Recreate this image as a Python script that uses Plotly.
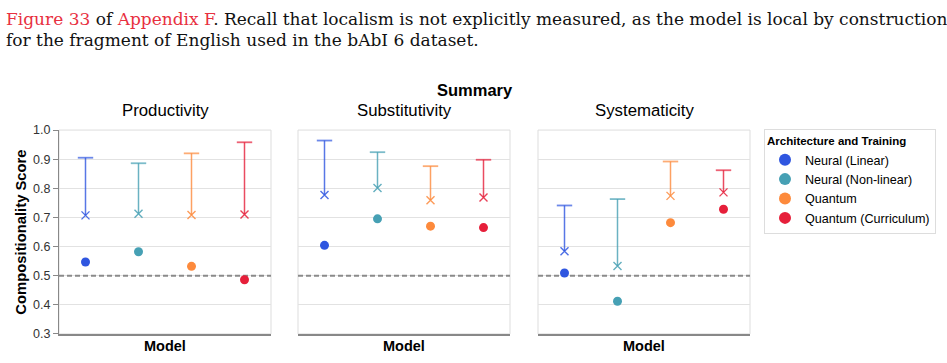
import plotly.graph_objects as go

# ---------------- data ----------------
panels = ["Productivity", "Substitutivity", "Systematicity"]
models = ["Neural (Linear)", "Neural (Non-linear)", "Quantum", "Quantum (Curriculum)"]
colors = ["#2f56e0", "#46a0b4", "#fd8a3c", "#e61f3a"]

score_productivity = [0.547, 0.582, 0.532, 0.486]
mid_productivity = [0.707, 0.713, 0.708, 0.710]
upper_productivity = [0.905, 0.886, 0.920, 0.958]

score_substitutivity = [0.604, 0.695, 0.670, 0.665]
mid_substitutivity = [0.777, 0.801, 0.759, 0.768]
upper_substitutivity = [0.964, 0.924, 0.876, 0.898]

score_systematicity = [0.509, 0.412, 0.682, 0.728]
mid_systematicity = [0.584, 0.533, 0.774, 0.786]
upper_systematicity = [0.741, 0.763, 0.892, 0.862]

baseline = 0.5
y_ticks = [0.3, 0.4, 0.5, 0.6, 0.7, 0.8, 0.9, 1.0]

caption_line1 = ('<span style="color:#e8303f">Figure 33</span> of '
                 '<span style="color:#e8303f">Appendix F</span>. Recall that localism is not '
                 'explicitly measured, as the model is local by construction')
caption_line2 = "for the fragment of English used in the bAbI 6 dataset."

scores = [score_productivity, score_substitutivity, score_systematicity]
mids = [mid_productivity, mid_substitutivity, mid_systematicity]
uppers = [upper_productivity, upper_substitutivity, upper_systematicity]

# ---------------- layout geometry ----------------
W, H = 947, 363
px_x = [(59, 271), (298, 510), (538, 750)]
y_top, y_bot = 128, 340

SANS = "Liberation Sans, Arial, sans-serif"
SERIF = "DejaVu Serif, serif"

fig = go.Figure()

for p in range(3):
    xa = "x" if p == 0 else f"x{p+1}"
    ya = "y" if p == 0 else f"y{p+1}"
    # baseline dashed rule
    fig.add_trace(go.Scatter(
        x=[-0.5, 3.5], y=[baseline, baseline], mode="lines",
        line=dict(color="#8a8a8a", width=2, dash="5px,3px"),
        xaxis=xa, yaxis=ya, showlegend=False, hoverinfo="skip"))
    for m, model in enumerate(models):
        c = colors[m]
        # error line from mid to upper
        fig.add_trace(go.Scatter(
            x=[m, m], y=[mids[p][m], uppers[p][m]], mode="lines",
            line=dict(color=c, width=1.5), opacity=0.8,
            xaxis=xa, yaxis=ya, showlegend=False, hoverinfo="skip"))
        # cap
        fig.add_trace(go.Scatter(
            x=[m], y=[uppers[p][m]], mode="markers",
            marker=dict(symbol="line-ew-open", size=11, color=c,
                        line=dict(color=c, width=1.8)),
            opacity=0.7, xaxis=xa, yaxis=ya, showlegend=False, hoverinfo="skip"))
        # x marker
        fig.add_trace(go.Scatter(
            x=[m], y=[mids[p][m]], mode="markers",
            marker=dict(symbol="x-thin-open", size=8, color=c,
                        line=dict(color=c, width=1.4)),
            opacity=0.85, xaxis=xa, yaxis=ya, showlegend=False, hoverinfo="skip"))
        # score dot
        fig.add_trace(go.Scatter(
            x=[m], y=[scores[p][m]], mode="markers",
            marker=dict(symbol="circle", size=9, color=c),
            name=model, legendgroup=model, showlegend=(p == 0),
            xaxis=xa, yaxis=ya))

layout = dict(
    width=W, height=H,
    margin=dict(l=0, r=0, t=0, b=0),
    paper_bgcolor="white", plot_bgcolor="white",
    font=dict(family=SANS, size=12, color="#333"),
    showlegend=True,
    legend=dict(
        x=936 / W, xanchor="right", y=(H - 127) / H, yanchor="top",
        bordercolor="#dddddd", borderwidth=1, bgcolor="white",
        title=dict(text="<b>Architecture and Training</b>",
                   font=dict(size=11.5, color="#000", family=SANS), side="top"),
        font=dict(size=12.6, color="#000", family=SANS),
        itemsizing="constant", tracegroupgap=0, itemwidth=30,
    ),
)

shapes = []
annotations = []
for p in range(3):
    suffix = "" if p == 0 else str(p + 1)
    x0, x1 = px_x[p]
    layout[f"xaxis{suffix}"] = dict(
        domain=[x0 / W, x1 / W], range=[-0.5, 3.5],
        anchor=f"y{suffix}", showticklabels=False, ticks="",
        showgrid=False, zeroline=False,
        showline=True, linecolor="#888888", linewidth=2,
        fixedrange=True,
    )
    yax = dict(
        domain=[(H - y_bot) / H, (H - y_top) / H], range=[0.3, 1.0],
        anchor=f"x{suffix}", tickvals=y_ticks, tickformat=".1f",
        showgrid=True, gridcolor="#e2e2e2", gridwidth=1, zeroline=False,
        fixedrange=True,
    )
    if p == 0:
        yax.update(showticklabels=True, ticks="outside", ticklen=5, tickcolor="#888888",
                   showline=True, linecolor="#888888", linewidth=1,
                   tickfont=dict(size=12.5, color="#333", family=SANS))
    else:
        yax.update(showticklabels=False, ticks="", showline=False)
    layout[f"yaxis{suffix}"] = yax
    shapes.append(dict(type="rect", xref=f"x{suffix} domain", yref=f"y{suffix} domain",
                       x0=0, x1=1, y0=0, y1=1, line=dict(color="#dddddd", width=1),
                       layer="below"))
    annotations.append(dict(text=panels[p], xref="paper", yref="paper",
                            x=(x0 + x1) / 2 / W, y=(H - 107.6) / H, xanchor="center",
                            yanchor="middle", showarrow=False,
                            font=dict(size=16.8, color="#000", family=SANS)))
    annotations.append(dict(text="<b>Model</b>", xref="paper", yref="paper",
                            x=(x0 + x1) / 2 / W, y=(H - 352.4) / H, xanchor="center",
                            yanchor="middle", showarrow=False,
                            font=dict(size=14.5, color="#000", family=SANS)))

annotations.append(dict(text="<b>Compositionality Score</b>", xref="paper", yref="paper",
                        x=21.5 / W, y=(H - 234.2) / H, xanchor="center", yanchor="middle",
                        textangle=-90, showarrow=False,
                        font=dict(size=14.8, color="#000", family=SANS)))

annotations.append(dict(text="<b>Summary</b>", xref="paper", yref="paper",
                        x=474.5 / W, y=(H - 86) / H, xanchor="center", yanchor="middle",
                        showarrow=False, font=dict(size=16.5, color="#000", family=SANS)))

annotations.append(dict(text=caption_line1, xref="paper", yref="paper",
                        x=4 / W, y=(H - 13) / H, xanchor="left", yanchor="middle",
                        showarrow=False, align="left",
                        font=dict(size=17, color="#111", family=SERIF)))
annotations.append(dict(text=caption_line2, xref="paper", yref="paper",
                        x=4 / W, y=(H - 34.5) / H, xanchor="left", yanchor="middle",
                        showarrow=False, align="left",
                        font=dict(size=17, color="#111", family=SERIF)))

layout["shapes"] = shapes
layout["annotations"] = annotations
fig.update_layout(**layout)

fig.write_html("out.html", config={"displayModeBar": False},
               post_script="document.body.style.margin='0px';")
